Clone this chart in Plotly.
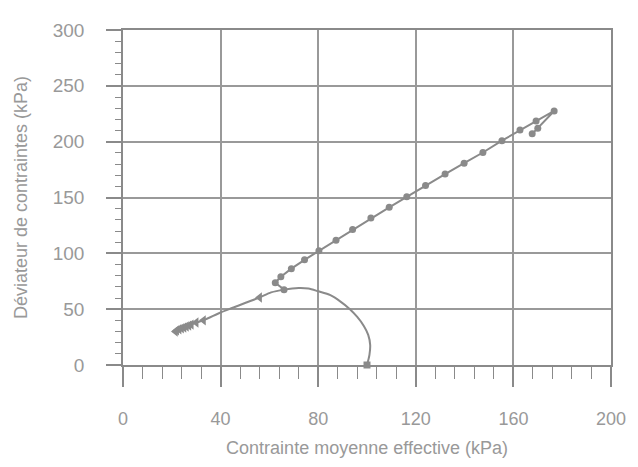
import plotly.graph_objects as go

# Undrained effective stress path (triangles)
p_undr = [100, 101, 101.3, 100.5, 98.7, 96, 93, 89, 85, 80, 76, 72, 66, 60.7, 56, 50, 44.7, 40, 33, 30, 28, 26, 24, 22.5, 21.5]
q_undr = [0, 9, 18, 27, 35, 43, 50, 57, 62.5, 66, 68.5, 69, 67.5, 65, 60.5, 55.5, 51, 47, 40, 38, 36.2, 34.5, 32.8, 31.3, 30]
p_tri = [56, 33, 30, 28, 27, 26, 25, 24, 23, 22, 21.5]
q_tri = [60.5, 40, 38, 36.2, 35.3, 34.5, 33.6, 32.8, 32, 31, 30]
p_start = [100]
q_start = [0]

# Second path (circles)
p_circ = [66, 62.4, 64.7, 69, 74.4, 80.3, 87.3, 94.1, 101.6, 109.1, 116.3, 124, 132, 139.8,
          147.5, 155.3, 162.7, 169.3, 176.7, 170, 167.7]
q_circ = [67.5, 73.7, 79, 86.3, 94.2, 102.3, 111.7, 121.4, 131.6, 141.2, 150.6, 160.8, 171, 180.7,
          190.3, 200.9, 210.5, 218.4, 227.5, 212, 207]

x_ticks = [0, 40, 80, 120, 160, 200]
y_ticks = [0, 50, 100, 150, 200, 250, 300]

LINE = "#8a8a8a"
TXT = "#999999"
GRID = "#999999"

fig = go.Figure()
fig.add_trace(go.Scatter(x=p_undr, y=q_undr, mode="lines", line=dict(color=LINE, width=2, shape="spline", smoothing=0.8),
                         hoverinfo="skip", showlegend=False))
fig.add_trace(go.Scatter(x=p_tri, y=q_tri, mode="markers",
                         marker=dict(symbol="triangle-left", size=9, color=LINE), showlegend=False))
fig.add_trace(go.Scatter(x=p_start, y=q_start, mode="markers",
                         marker=dict(symbol="square", size=7, color=LINE), showlegend=False, cliponaxis=False))
fig.add_trace(go.Scatter(x=p_circ, y=q_circ, mode="lines+markers", line=dict(color=LINE, width=2),
                         marker=dict(symbol="circle", size=7, color=LINE), showlegend=False))

xtick_font = dict(family="Liberation Sans, Arial, sans-serif", size=18, color=TXT)
ytick_font = dict(family="Liberation Sans, Arial, sans-serif", size=19, color=TXT)
title_font = dict(family="Liberation Sans, Arial, sans-serif", size=18, color=TXT)

# The page keeps its 8px body margin; the figure is sized to fill the rest of the window
fig.update_layout(
    width=630, height=459,
    margin=dict(l=112, r=18, t=20, b=97),
    paper_bgcolor="white", plot_bgcolor="white",
    font=ytick_font,
    xaxis=dict(
        range=[0, 200], tickmode="array", tickvals=x_ticks, ticktext=[str(v) for v in x_ticks],
        tickfont=xtick_font,
        showgrid=True, gridcolor=GRID, gridwidth=1.5,
        showline=True, linecolor=LINE, linewidth=1.5, mirror=True,
        ticks="outside", ticklen=20, tickwidth=1.5, tickcolor=LINE,
        ticklabelstandoff=17,
        minor=dict(dtick=8, tick0=0, ticks="outside", ticklen=12, tickwidth=1.2, tickcolor=LINE, showgrid=False),
        zeroline=False,
        title=dict(text="Contrainte moyenne effective (kPa)", standoff=13, font=title_font),
    ),
    yaxis=dict(
        range=[0, 300], tickmode="array", tickvals=y_ticks, ticktext=[str(v) for v in y_ticks],
        tickfont=ytick_font,
        showgrid=True, gridcolor=GRID, gridwidth=1.5,
        showline=True, linecolor=LINE, linewidth=1.5, mirror=True,
        ticks="outside", ticklen=15, tickwidth=1.5, tickcolor=LINE,
        ticklabelstandoff=18,
        minor=dict(dtick=10, tick0=0, ticks="outside", ticklen=6, tickwidth=1.2, tickcolor=LINE, showgrid=False),
        zeroline=False,
        title=dict(text="Déviateur de contraintes (kPa)", standoff=20, font=title_font),
    ),
)

fig.write_html("out.html", config={"displayModeBar": False})
